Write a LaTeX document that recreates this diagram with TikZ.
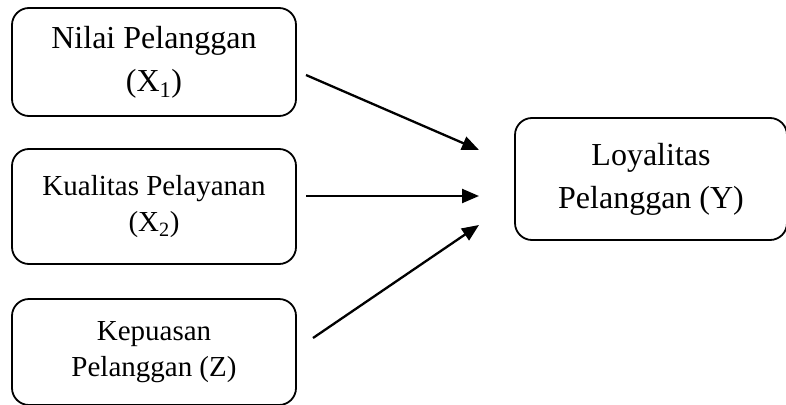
\documentclass[tikz,border=0pt]{standalone}
\usepackage{fontspec}
\setmainfont{Liberation Serif}
\usetikzlibrary{arrows.meta}
\tikzset{
  box/.style={draw, line width=1.8pt, rounded corners=17pt, align=center, inner sep=0pt},
  bigtxt/.style={font=\fontsize{32}{43}\selectfont},
  smalltxt/.style={font=\fontsize{29}{36}\selectfont},
  conn/.style={line width=2.3pt, -{Triangle[length=17pt,width=14pt]}}
}
\begin{document}
\begin{tikzpicture}[x=1pt,y=-1pt]
\useasboundingbox (0,0) rectangle (786,404);
\node[box, bigtxt, minimum width=284pt, minimum height=108pt] (x1) at (154,62) {Nilai Pelanggan\\(X\textsubscript{1})};
\node[box, smalltxt, minimum width=284pt, minimum height=115pt] (x2) at (154,206.5) {Kualitas Pelayanan\\(X\textsubscript{2})};
\node[box, smalltxt, minimum width=284pt, minimum height=106pt] (z) at (154,352) {Kepuasan\\Pelanggan (Z)};
\node[box, bigtxt, minimum width=272pt, minimum height=122pt] (y) at (651,179) {Loyalitas\\Pelanggan (Y)};
\coordinate (s1) at (306,75);
\coordinate (e1) at (479,150);
\coordinate (s2) at (306,196);
\coordinate (e2) at (479,196);
\coordinate (s3) at (313,338);
\coordinate (e3) at (479,225);
\draw[conn] (s1) -- (e1);
\draw[conn] (s2) -- (e2);
\draw[conn] (s3) -- (e3);
\end{tikzpicture}
\end{document}
